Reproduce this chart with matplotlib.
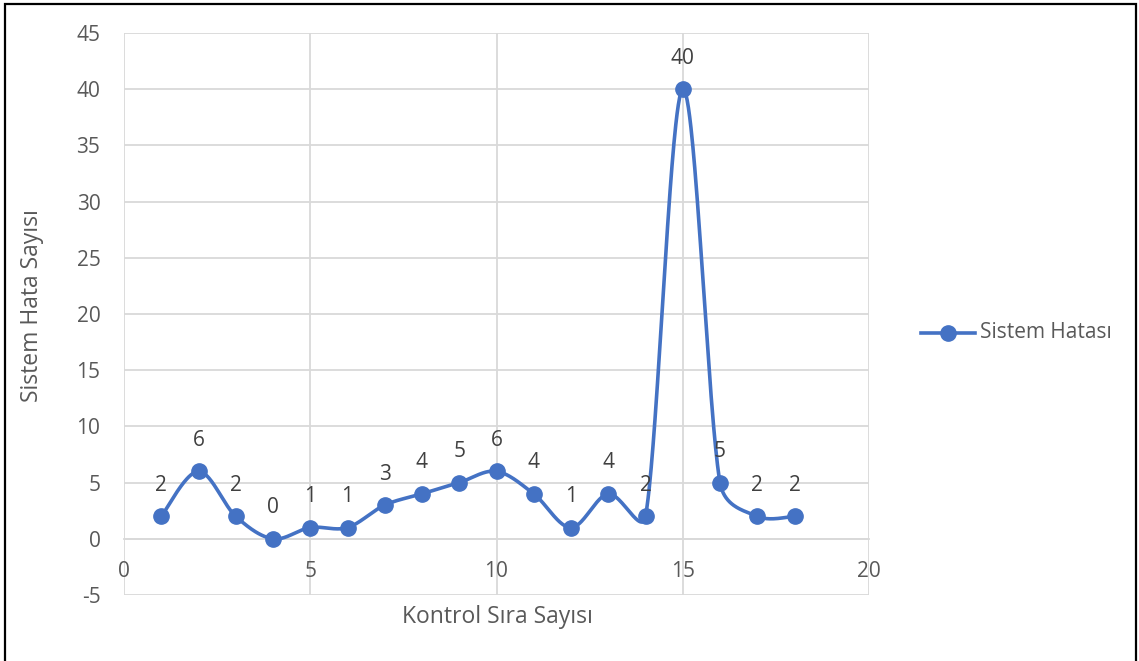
import numpy as np
import matplotlib
matplotlib.use("Agg")
import matplotlib.pyplot as plt
from matplotlib.patches import Rectangle
from matplotlib.lines import Line2D

plt.rcParams['font.family'] = ['Open Sans', 'DejaVu Sans']
plt.rcParams['axes.unicode_minus'] = False

# Data
kontrol = [1, 2, 3, 4, 5, 6, 7, 8, 9, 10, 11, 12, 13, 14, 15, 16, 17, 18]
hata = [2, 6, 2, 0, 1, 1, 3, 4, 5, 6, 4, 1, 4, 2, 40, 5, 2, 2]
series_name = "Sistem Hatası"
x_title = "Kontrol Sıra Sayısı"
y_title = "Sistem Hata Sayısı"

BLUE = "#4472C4"
GRID = "#D9D9D9"
TXT = "#595959"


def smooth_curve(pts, n=60):
    """Bezier smoothing through display-space points; each handle is
    limited to half of its segment length to keep overshoot small."""
    p = np.asarray(pts, dtype=float)
    m = len(p)
    out = []
    for i in range(m - 1):
        p0 = p[i - 1] if i > 0 else p[i]
        p1 = p[i]
        p2 = p[i + 1]
        p3 = p[i + 2] if i + 2 < m else p[i + 1]
        d12 = np.hypot(*(p2 - p1))
        d02 = np.hypot(*(p2 - p0))
        d13 = np.hypot(*(p3 - p1))
        f0 = 1 / 6
        f3 = 1 / 6
        if d02 > 0 and f0 * d02 > d12 / 2:
            f0 = d12 / (2 * d02)
        if d13 > 0 and f3 * d13 > d12 / 2:
            f3 = d12 / (2 * d13)
        c1 = p1 + (p2 - p0) * f0
        c2 = p2 - (p3 - p1) * f3
        t = np.linspace(0, 1, n)[:, None]
        seg = ((1 - t) ** 3) * p1 + 3 * ((1 - t) ** 2) * t * c1 \
            + 3 * (1 - t) * t ** 2 * c2 + t ** 3 * p2
        out.append(seg if i == 0 else seg[1:])
    return np.vstack(out)


fig = plt.figure(figsize=(11.39, 6.61), dpi=100)
ax = fig.add_axes([124 / 1139, 1 - 595 / 661, (869 - 124) / 1139, (595 - 33) / 661])

ax.set_xlim(0, 20)
ax.set_ylim(-5, 45)
ax.set_xticks(np.arange(0, 21, 5))
ax.set_yticks(np.arange(-5, 46, 5))
ax.grid(True, color=GRID, linewidth=1.3)
ax.set_axisbelow(True)

for s in ["top", "right", "left"]:
    ax.spines[s].set_visible(False)
ax.spines["bottom"].set_position(("data", 0))
ax.spines["bottom"].set_color(GRID)
ax.spines["bottom"].set_linewidth(1.3)
ax.tick_params(axis="both", length=0, labelsize=15, labelcolor=TXT)
ax.tick_params(axis="x", pad=16)
ax.tick_params(axis="y", pad=17)

# Smooth line computed in pixel space, then mapped back to data
fig.canvas.draw()
disp = ax.transData.transform(np.column_stack([kontrol, hata]))
curve = ax.transData.inverted().transform(smooth_curve(disp))
ax.plot(curve[:, 0], curve[:, 1], color=BLUE, linewidth=2.6,
        solid_capstyle="round", solid_joinstyle="round", zorder=3)
ax.plot(kontrol, hata, linestyle="none", marker="o", markersize=11,
        color=BLUE, zorder=4)

for xv, yv in zip(kontrol, hata):
    ax.annotate(str(yv), (xv, yv), xytext=(0, 31), textcoords="offset pixels",
                ha="center", va="center", fontsize=15, color="#404040")

fig.text(497 / 1139, 1 - 617 / 661, x_title, ha="center", va="center",
         fontsize=16.5, color=TXT)
fig.text(32 / 1139, 1 - 306 / 661, y_title, ha="center", va="center",
         rotation=90, fontsize=16.5, color=TXT)

# Legend entry
ly = 1 - 333 / 661
fig.add_artist(Line2D([921 / 1139, 975 / 1139], [ly, ly], color=BLUE,
                      linewidth=2.6, transform=fig.transFigure))
fig.add_artist(Line2D([948 / 1139], [ly], color=BLUE, marker="o",
                      markersize=11, linestyle="none",
                      transform=fig.transFigure))
fig.text(980 / 1139, ly, series_name, ha="left", va="center",
         fontsize=15, color=TXT)

# Outer frame
fig.add_artist(Rectangle((4.5 / 1139, -0.05), (1136 - 4.5) / 1139,
                         1.05 - 3.5 / 661, fill=False, edgecolor="black",
                         linewidth=1.6, transform=fig.transFigure))

fig.savefig("out.png", dpi=100, facecolor="white")
